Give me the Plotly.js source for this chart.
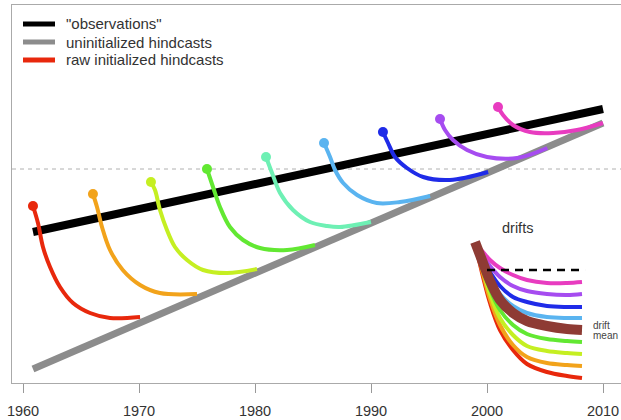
<!DOCTYPE html>
<html>
<head>
<meta charset="utf-8">
<script src="https://cdn.plot.ly/plotly-3.0.1.min.js"></script>
<style>html,body{margin:0;padding:0;background:#fff}#chart{width:621px;height:420px}</style>
</head>
<body>
<div id="chart"></div>
<script>
// ---- data ----
const tickYears = [1960, 1970, 1980, 1990, 2000, 2010];
const tickLabels = ['1960', '1970', '1980', '1990', '2000', '2010'];
const legendNames = ['"observations"', 'uninitialized hindcasts', 'raw initialized hindcasts'];

const obsYears = [1960.86, 2010.0];
const obsValues = [-0.63, 0.60];

const uninitYears = [1960.86, 2010.0];
const uninitValues = [-2.00, 0.46];

// raw initialized hindcasts, one per start year
const hc1961Years = [1960.86, 1961.29, 1961.72, 1962.33, 1963.19, 1964.31, 1965.78, 1967.5, 1970.09];
const hc1961Values = [-0.37, -0.54, -0.78, -0.98, -1.18, -1.34, -1.44, -1.49, -1.48];
const hc1966Years = [1966.03, 1966.38, 1966.81, 1967.5, 1968.6, 1970.09, 1971.8, 1975.0];
const hc1966Values = [-0.25, -0.38, -0.58, -0.81, -1.01, -1.16, -1.24, -1.25];
const hc1971Years = [1971.03, 1971.38, 1971.81, 1972.41, 1973.1, 1974.14, 1975.52, 1977.59, 1980.17];
const hc1971Values = [-0.13, -0.21, -0.41, -0.61, -0.78, -0.91, -1.01, -1.04, -1.00];
const hc1976Years = [1975.86, 1976.38, 1976.98, 1977.84, 1978.97, 1980.43, 1982.76, 1985.17];
const hc1976Values = [0.00, -0.18, -0.38, -0.58, -0.71, -0.79, -0.81, -0.76];
const hc1981Years = [1980.95, 1981.47, 1982.16, 1983.28, 1984.74, 1986.21, 1987.33, 1990.0];
const hc1981Values = [0.12, -0.04, -0.24, -0.41, -0.53, -0.57, -0.58, -0.53];
const hc1986Years = [1985.95, 1986.47, 1986.9, 1987.6, 1988.8, 1990.5, 1992.5, 1995.1];
const hc1986Values = [0.26, 0.12, -0.01, -0.14, -0.26, -0.34, -0.33, -0.27];
const hc1991Years = [1991.03, 1991.47, 1992.07, 1993.1, 1994.5, 1996.8, 2000.1];
const hc1991Values = [0.37, 0.26, 0.12, 0.01, -0.08, -0.11, -0.03];
const hc1996Years = [1995.95, 1996.38, 1997.07, 1998.28, 2000.0, 2002.6, 2005.2];
const hc1996Values = [0.50, 0.39, 0.29, 0.19, 0.12, 0.11, 0.21];
const hc2001Years = [2000.95, 2001.38, 2002.24, 2003.7, 2005.7, 2007.76, 2010.0];
const hc2001Values = [0.62, 0.54, 0.44, 0.37, 0.36, 0.39, 0.46];

// drift inset (drawn on the same axes)
const driftYears = [1998.97, 1999.66, 2000.26, 2001.12, 2002.24, 2003.45, 2005.17, 2006.9, 2008.19];
const drift1961Values = [-0.74, -1.08, -1.34, -1.61, -1.81, -1.95, -2.03, -2.07, -2.09];
const drift1966Values = [-0.74, -1.05, -1.30, -1.56, -1.76, -1.88, -1.94, -1.96, -1.97];
const drift1971Values = [-0.74, -1.02, -1.25, -1.49, -1.66, -1.77, -1.82, -1.84, -1.85];
const drift1976Values = [-0.74, -0.99, -1.20, -1.41, -1.56, -1.65, -1.70, -1.72, -1.73];
const drift1981Values = [-0.74, -0.96, -1.14, -1.33, -1.46, -1.54, -1.59, -1.61, -1.61];
const drift1986Values = [-0.74, -0.93, -1.09, -1.25, -1.37, -1.44, -1.48, -1.49, -1.49];
const drift1991Values = [-0.74, -0.90, -1.03, -1.17, -1.28, -1.33, -1.37, -1.38, -1.38];
const drift1996Values = [-0.74, -0.87, -0.97, -1.08, -1.17, -1.22, -1.25, -1.26, -1.25];
const drift2001Values = [-0.74, -0.83, -0.91, -0.99, -1.06, -1.11, -1.14, -1.14, -1.13];
const driftMeanValues = [-0.73, -0.94, -1.12, -1.31, -1.44, -1.52, -1.57, -1.60, -1.61];
const driftRefYears = [2000.0, 2008.45];
const driftRefValues = [-1.01, -1.01];

// ---- styling ----
const hcColors = ['#e8280c', '#f2a31b', '#c5ef22', '#62e832', '#6ef0b4', '#5ab4f0', '#1f2be8', '#a64cf0', '#e83cc0'];
const legendColors = ['#000000', '#8c8c8c', '#e8280c'];
const hindcastYears = [hc1961Years, hc1966Years, hc1971Years, hc1976Years, hc1981Years, hc1986Years, hc1991Years, hc1996Years, hc2001Years];
const hindcastValues = [hc1961Values, hc1966Values, hc1971Values, hc1976Values, hc1981Values, hc1986Values, hc1991Values, hc1996Values, hc2001Values];
const driftValues = [drift1961Values, drift1966Values, drift1971Values, drift1976Values, drift1981Values, drift1986Values, drift1991Values, drift1996Values, drift2001Values];
const FONT = 'Liberation Sans, Arial, sans-serif';

// plot-area geometry in pixels (for placing the key)
const PL = 12, PT = 5, PW = 609, PH = 378;
const px2paperX = p => (p - PL) / PW;
const px2paperY = p => 1 - (p - PT) / PH;

const traces = [];
traces.push({x: uninitYears, y: uninitValues, mode: 'lines', showlegend: false,
  line: {color: '#8c8c8c', width: 7}, hoverinfo: 'skip'});
traces.push({x: obsYears, y: obsValues, mode: 'lines', showlegend: false,
  line: {color: '#000000', width: 8}, hoverinfo: 'skip'});
hindcastYears.forEach((xs, i) => {
  traces.push({x: xs, y: hindcastValues[i], mode: 'lines', showlegend: false,
    line: {color: hcColors[i], width: 4, shape: 'spline', smoothing: 1}, hoverinfo: 'skip'});
});
traces.push({x: hindcastYears.map(a => a[0]), y: hindcastValues.map(a => a[0]), mode: 'markers',
  showlegend: false, marker: {color: hcColors, size: 10}, hoverinfo: 'skip'});
driftValues.forEach((ys, i) => {
  traces.push({x: driftYears, y: ys, mode: 'lines', showlegend: false,
    line: {color: hcColors[i], width: 4, shape: 'spline', smoothing: 1}, hoverinfo: 'skip'});
});
traces.push({x: driftYears, y: driftMeanValues, mode: 'lines', showlegend: false,
  line: {color: '#8e3b34', width: 10, shape: 'spline', smoothing: 1}, hoverinfo: 'skip'});
traces.push({x: driftRefYears, y: driftRefValues, mode: 'lines', showlegend: false,
  line: {color: '#000000', width: 2.5, dash: '8px,6px'}, hoverinfo: 'skip'});

const shapes = [{type: 'line', xref: 'paper', x0: 0, x1: 1, yref: 'y', y0: 0, y1: 0, layer: 'below',
  line: {color: '#b0b0b0', width: 1, dash: '4px,4px'}}];
const annotations = [
  {x: 2002.67, y: -0.59, xref: 'x', yref: 'y', text: 'drifts', showarrow: false,
    font: {family: FONT, size: 14.5, color: '#333333'}},
  {x: 2009.0, y: -1.56, xref: 'x', yref: 'y', text: 'drift', showarrow: false, xanchor: 'left',
    font: {family: FONT, size: 10, color: '#444444'}},
  {x: 2009.0, y: -1.66, xref: 'x', yref: 'y', text: 'mean', showarrow: false, xanchor: 'left',
    font: {family: FONT, size: 10, color: '#444444'}}
];
// key (drawn as shapes + text so spacing matches the reference)
legendNames.forEach((nm, i) => {
  const yy = px2paperY(24 + 18 * i);
  shapes.push({type: 'line', xref: 'paper', yref: 'paper', x0: px2paperX(23), x1: px2paperX(55),
    y0: yy, y1: yy, line: {color: legendColors[i], width: 5}});
  annotations.push({xref: 'paper', yref: 'paper', x: px2paperX(64), y: yy, text: nm,
    showarrow: false, xanchor: 'left', yanchor: 'middle',
    font: {family: FONT, size: 15, color: '#333333'}});
});

const layout = {
  width: 621, height: 420,
  margin: {l: PL, r: 0, t: PT, b: 37, pad: 0},
  paper_bgcolor: '#ffffff', plot_bgcolor: '#ffffff',
  font: {family: FONT, size: 14, color: '#333333'},
  showlegend: false,
  xaxis: {range: [1959.052, 2011.552], tickvals: tickYears, ticktext: tickLabels,
    ticks: 'outside', ticklen: 9, tickwidth: 1, tickcolor: '#999999', ticklabelstandoff: 6,
    showline: true, linecolor: '#aaaaaa', linewidth: 1, mirror: true,
    showgrid: false, zeroline: false, tickfont: {family: FONT, size: 14.5, color: '#333333'}},
  yaxis: {range: [-2.14, 1.64], showticklabels: false, ticks: '', showline: true,
    linecolor: '#aaaaaa', linewidth: 1, showgrid: false, zeroline: false},
  shapes: shapes,
  annotations: annotations
};

Plotly.newPlot('chart', traces, layout, {displayModeBar: false, staticPlot: true});
</script>
</body>
</html>
